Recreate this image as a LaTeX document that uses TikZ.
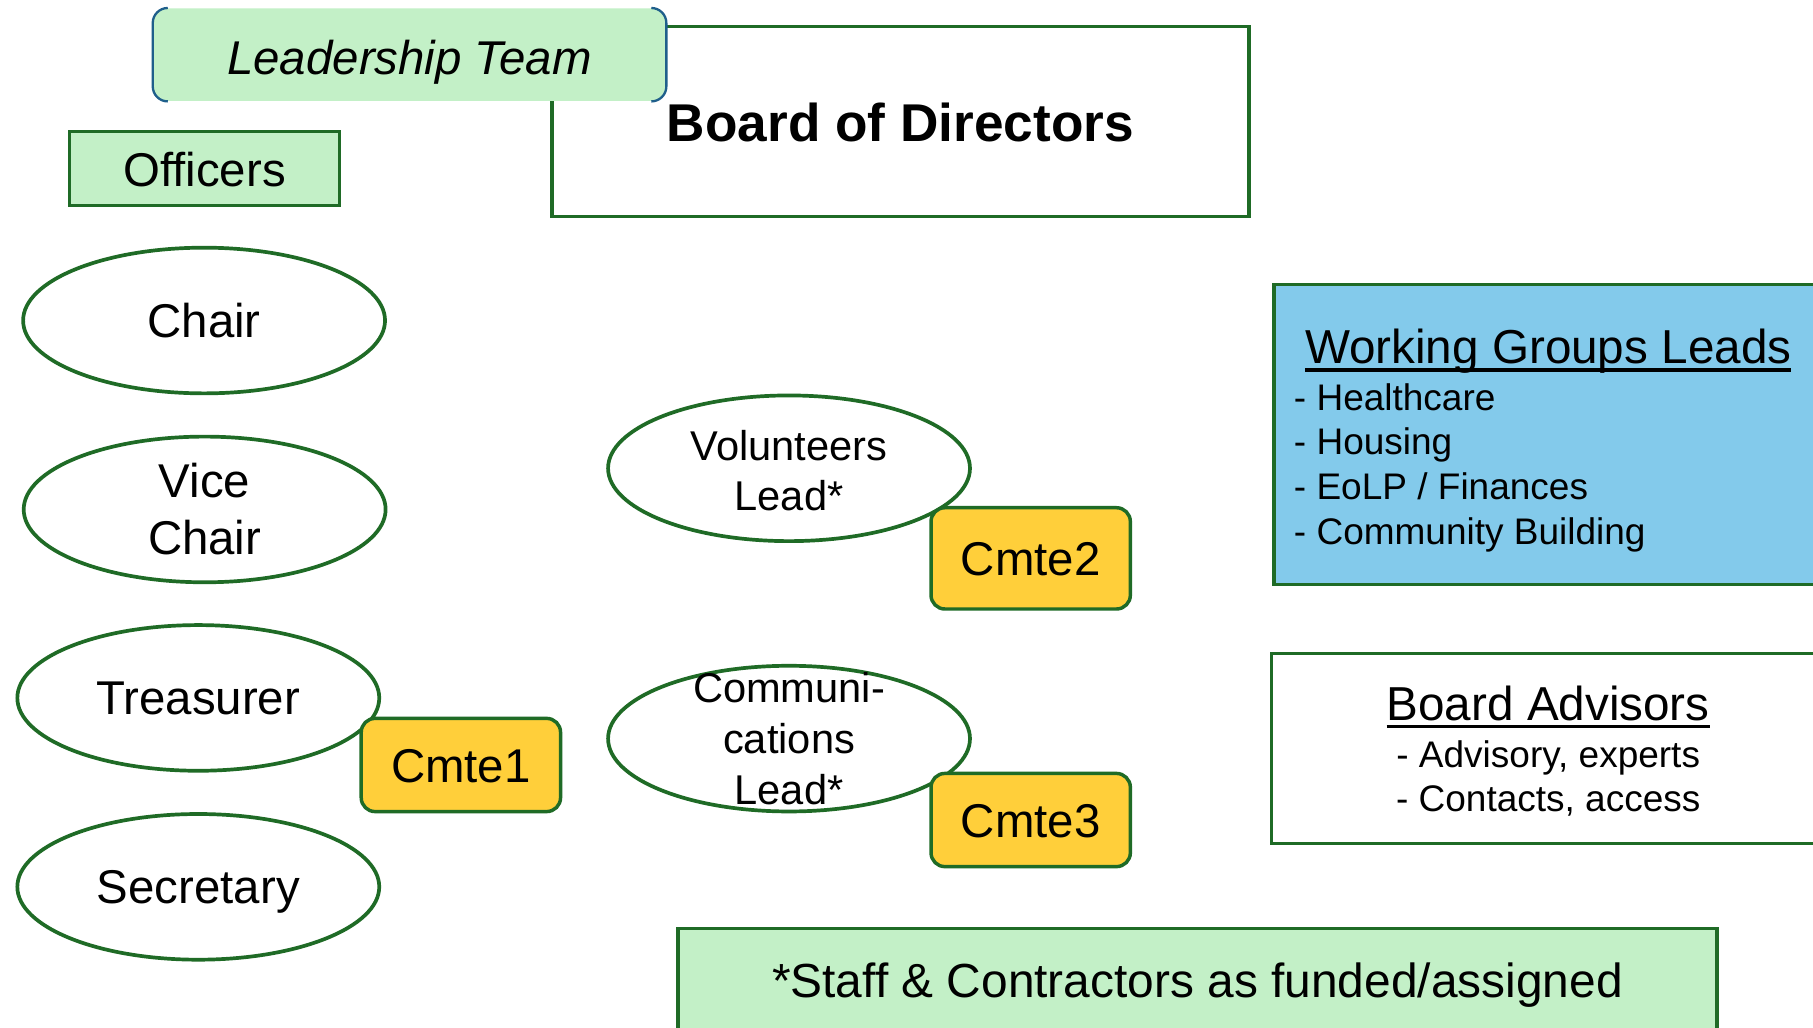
\documentclass[tikz,border=0pt]{standalone}
\usepackage{fontspec}
\setmainfont{Liberation Sans}
\usetikzlibrary{shapes.geometric}
\definecolor{bgreen}{RGB}{31,107,38}
\definecolor{lgreen}{RGB}{195,240,199}
\definecolor{cyel}{RGB}{255,207,58}
\definecolor{wgblue}{RGB}{131,202,235}
\definecolor{ltblue}{RGB}{31,95,139}
\newcommand\ulin[1]{\setbox0=\hbox{#1}\rlap{\rule[-0.1775em]{\wd0}{0.075em}}\box0}
\begin{document}
\begin{tikzpicture}[x=0.5pt,y=-0.5pt,
  gbox/.style={draw=bgreen, line width=1.5pt, inner sep=0pt},
  oval/.style={ellipse, draw=bgreen, line width=1.6pt, fill=white, inner sep=0pt,
    minimum width=156.5pt, minimum height=63pt, align=center,
    font=\fontsize{20.5}{24.6}\selectfont},
  cmte/.style={draw=bgreen, line width=1.5pt, fill=cyel, rounded corners=6pt, inner sep=0pt,
    minimum width=86.2pt, text height=15pt, text depth=0pt,
    font=\fontsize{20.5}{24}\selectfont},
  lbl/.style={align=center, inner sep=0pt, font=\fontsize{20.5}{24.6}\selectfont},
  lbls/.style={align=center, inner sep=0pt, font=\fontsize{18}{22}\selectfont},
  ttl/.style={inner sep=0pt, anchor=base, font=\fontsize{20.6}{24}\selectfont},
  itm/.style={inner sep=0pt, font=\fontsize{16}{19.5}\selectfont}]
\clip (0,0) rectangle (1568,889);
\fill[white] (0,0) rectangle (1568,889);
% Board of Directors
\node[gbox, fill=white, minimum width=301.5pt, minimum height=82.1pt, text height=17.3pt, text depth=0pt,
  font=\fontsize{23}{27}\selectfont\bfseries] (board) at (778.7,105.2) {Board of Directors};
% Leadership Team
\node[fill=lgreen, rounded corners=6.5pt, inner sep=0pt, minimum width=221.7pt, minimum height=40pt,
  text height=16.7pt, text depth=0pt, font=\fontsize{20.5}{24}\selectfont\itshape] (lead) at (354.2,47.3) {Leadership Team};
\draw[ltblue, line width=1pt, rounded corners=6.5pt]
  ([xshift=6.5pt]lead.north west) -- (lead.north west) -- (lead.south west) -- ([xshift=6.5pt]lead.south west);
\draw[ltblue, line width=1pt, rounded corners=6.5pt]
  ([xshift=-6.5pt]lead.north east) -- (lead.north east) -- (lead.south east) -- ([xshift=-6.5pt]lead.south east);
% Officers
\node[gbox, fill=lgreen, minimum width=116.7pt, minimum height=32pt, text height=15pt, text depth=0pt,
  font=\fontsize{20.5}{24}\selectfont] (officers) at (176.9,145.9) {Officers};
% Officer ovals
\node[oval] (chair) at (176.5,277.2) {Chair};
\node[oval] (vice) at (177,440.6) {};
\node[lbl] (vicet) at (vice) {Vice\\Chair};
\node[oval] (treas) at (171.5,603.6) {Treasurer};
\node[oval, text depth=0pt] (secr) at (171.5,767) {Secretary};
% Leads
\node[oval] (vol) at (682.4,405) {};
\node[lbls] (volt) at ([yshift=-1pt]vol.center) {Volunteers\\Lead*};
\node[oval] (comm) at (682.4,638.8) {};
\node[lbls] (commt) at (comm) {Communi-\\cations\\Lead*};
% Committees
\node[cmte, minimum height=40.3pt] (c1) at (398.6,661.6) {Cmte1};
\node[cmte, minimum height=43.8pt] (c2) at (891.4,482.9) {Cmte2};
\node[cmte, minimum height=40.3pt] (c3) at (891.4,709.2) {Cmte3};
% Working groups
\node[gbox, fill=wgblue, anchor=north west, minimum width=259pt, minimum height=129.7pt] (wg) at (1100.3,244.5) {};
\node[ttl] (wgt) at (1339,314.2) {\ulin{Working Groups Leads}};
\node[itm, anchor=base west] (wg1) at (1118.7,354.6) {- Healthcare};
\node[itm, anchor=base west] (wg2) at (1118.7,393.5) {- Housing};
\node[itm, anchor=base west] (wg3) at (1118.7,432.4) {- EoLP / Finances};
\node[itm, anchor=base west] (wg4) at (1118.7,471.3) {- Community Building};
% Board advisors
\node[gbox, fill=white, anchor=north west, minimum width=260pt, minimum height=82.1pt] (adv) at (1098.2,563.6) {};
\node[ttl] (advt) at (1339,622.7) {\ulin{Board Advisors}};
\node[itm, anchor=base] (adv1) at (1339,663.6) {- Advisory, experts};
\node[itm, anchor=base] (adv2) at (1339,702) {- Contacts, access};
% Staff
\node[gbox, fill=lgreen, minimum width=449.4pt, minimum height=44.6pt, text height=14.8pt, text depth=0pt,
  font=\fontsize{20.7}{24}\selectfont] (staff) at (1035.6,847.5) {*Staff \& Contractors as funded/assigned};
\end{tikzpicture}
\end{document}
